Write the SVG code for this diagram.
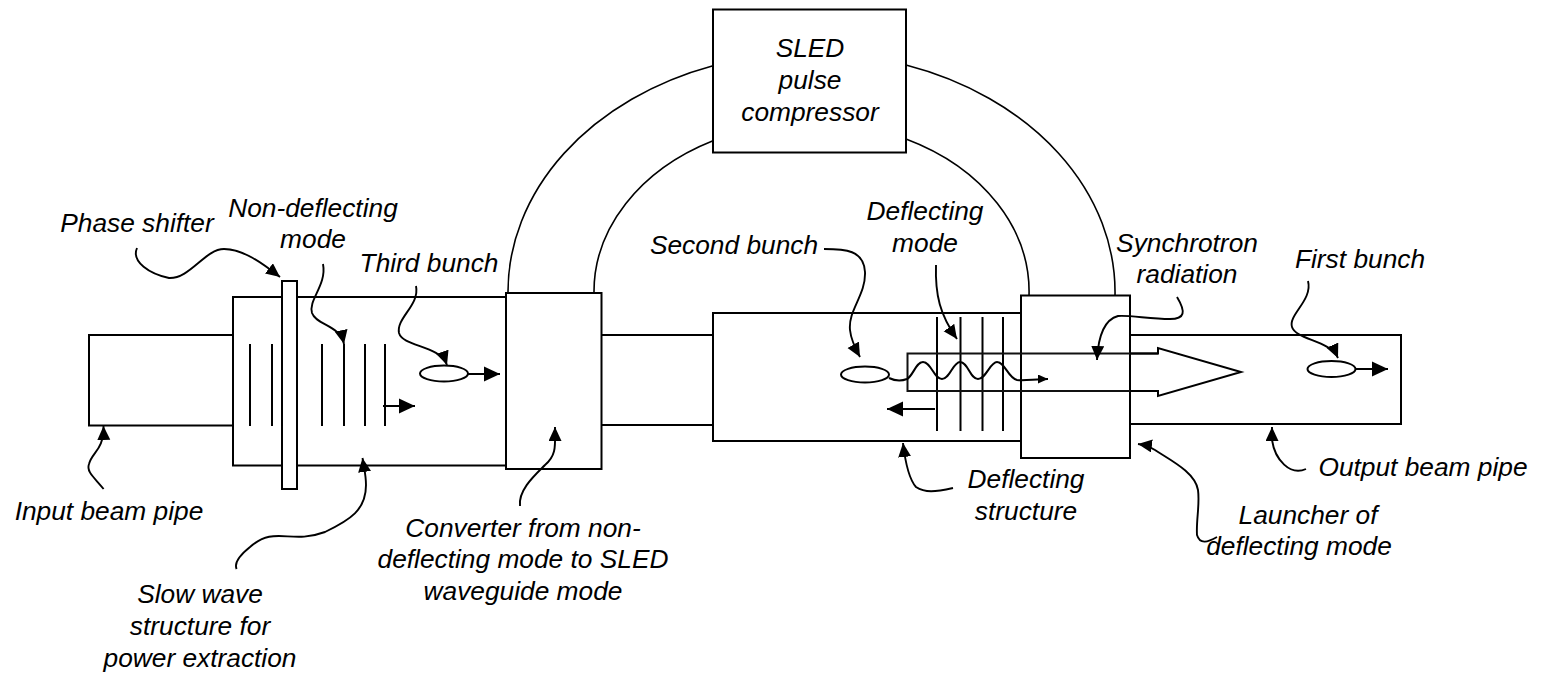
<svg xmlns="http://www.w3.org/2000/svg" width="1541" height="674" viewBox="0 0 1541 674">
<defs>
<marker id="a" markerUnits="userSpaceOnUse" markerWidth="16" markerHeight="14" refX="14" refY="6.500" orient="auto"><path d="M0 0L14 6.500L0 13Z" fill="#000"/></marker>
<marker id="big" markerUnits="userSpaceOnUse" markerWidth="18" markerHeight="16" refX="16" refY="8" orient="auto"><path d="M0 0.500L16 8L0 15.500Z" fill="#000"/></marker>
<marker id="small" markerUnits="userSpaceOnUse" markerWidth="12" markerHeight="10" refX="10" refY="4.500" orient="auto"><path d="M0 0L10 4.500L0 9Z" fill="#000"/></marker>
</defs>
<style>
.b{fill:#fff;stroke:#000;stroke-width:2}
.l{fill:none;stroke:#000;stroke-width:2}
.t{fill:none;stroke:#111;stroke-width:2}
.w{fill:none;stroke:#000;stroke-width:1.600}
.c{fill:none;stroke:#000;stroke-width:1.900;marker-end:url(#a)}
.s{fill:none;stroke:#000;stroke-width:2;marker-end:url(#big)}
text{font:italic 26.3px "Liberation Sans",Arial,sans-serif;text-anchor:middle;fill:#000}
</style>
<rect width="1541" height="674" fill="#fff"/>
<g id="waveguides"><path class="w" d="M508 293A303.500 239 0 0 1 713 65.700M594 293A217.500 169.400 0 0 1 713 140.700M1029 296A217.500 169.400 0 0 0 906 139M1115 296A303.500 239 0 0 0 906 65"/></g>
<g id="input-pipe"><rect class="b" x="89" y="335" width="160" height="90.500"/></g>
<g id="slow-wave"><rect class="b" x="233" y="297" width="290" height="168.500"/></g>
<g id="converter"><rect class="b" x="506" y="293" width="95.500" height="176"/><path class="l" d="M601 335H720M601 425H720"/></g>
<g id="deflecting"><rect class="b" x="713" y="313" width="315" height="128"/></g>
<g id="output-pipe"><rect class="b" x="1100" y="335" width="301" height="89"/></g>
<g id="launcher"><rect class="b" x="1021" y="295.500" width="109" height="162.500"/></g>
<g id="phase"><rect class="b" x="282" y="281" width="15" height="208"/></g>
<g id="sled"><rect class="b" x="713" y="9.500" width="193" height="143"/><text><tspan x="810" y="57">SLED</tspan><tspan x="810" y="89">pulse</tspan><tspan x="810" y="121">compressor</tspan></text></g>
<g id="details">
<path class="l" d="M250 344V426M272 344V426M322 344V426M344 344V426M365 344V426M385 344V426"/>
<ellipse class="b" cx="444" cy="373.500" rx="24" ry="8"/>
<path class="l" d="M937 317V431M960.500 317V431M982.500 317V431M1003 317V431"/>
<path class="t" d="M1158 353.500H907.500V391H1158"/>
<path class="l" d="M1130 391H1158V396L1241 372L1158 348V353.500H1130"/>
<ellipse class="b" cx="865" cy="374.500" rx="24" ry="8"/>
<ellipse class="b" cx="1331.500" cy="369" rx="24" ry="8"/>
</g>
<g id="connectors">
<path class="s" d="M383 406H415"/><path class="s" d="M468 374H500"/>
<path class="s" d="M935 409H887"/><path class="s" d="M1356 369H1388"/>
<path class="l" style="marker-end:url(#small)" d="M889 378C895 381 902 381 907 379C913 376 916 362 923 362C931 362 934 379 942 379C950 379 953 362 960 362C968 362 970 379 978 379C986 379 990 362 997 362C1005 362 1008 378 1017 380C1025 381 1035 379 1048 379"/>
<path class="c" d="M103.600 489C95 478 86 472 89 464C92 452 104 450 103.500 426"/>
<path class="c" d="M137 248C131 262 150 274 169 278C190 279 205 249 224 249C243 249 262 263 280 277"/>
<path class="c" d="M323 264C327 285 308 300 312 313C316 325 340 325 344 344"/>
<path class="c" d="M416 286C420 305 396 318 399 333C403 347 440 345 447 365"/>
<path class="c" d="M236.600 569C234 563 240 555 250 547C275 525 290 545 325 532C350 520 366 510 366 485C366 475 364 468 362.500 458"/>
<path class="c" d="M520 506C518 490 535 475 545 465C557 455 555 445 555 427"/>
<path class="c" d="M824 249C845 249 864 250 865 272C866 295 848 310 850 330C851 340 855 348 860 357"/>
<path class="c" d="M936 265C935 295 940 315 957 339"/>
<path class="c" d="M953 488C935 492 925 493 916 487C908 478 905 460 903 443"/>
<path class="c" d="M1177 297C1186 312 1185 319 1170 319C1150 319 1130 315 1118 316C1103 320 1098 340 1097 360"/>
<path class="c" d="M1308 281C1313 300 1288 315 1292 327C1296 340 1330 340 1338 358"/>
<path class="c" d="M1217 537C1208 542 1200 545 1197 535C1196 520 1200 505 1198 490C1195 472 1170 460 1155 450C1150 447 1145 445 1138 444"/>
<path class="c" d="M1306 469C1290 476 1275 460 1272 440L1272 427"/>
</g>
<g id="labels">
<text x="137" y="232">Phase shifter</text>
<text><tspan x="313" y="217">Non-deflecting</tspan><tspan x="313" y="248">mode</tspan></text>
<text x="429" y="272">Third bunch</text>
<text x="109" y="520">Input beam pipe</text>
<text><tspan x="200" y="603">Slow wave</tspan><tspan x="200" y="635">structure for</tspan><tspan x="200" y="667">power extraction</tspan></text>
<text><tspan x="523" y="537">Converter from non-</tspan><tspan x="523" y="568">deflecting mode to SLED</tspan><tspan x="523" y="600">waveguide mode</tspan></text>
<text x="734" y="254">Second bunch</text>
<text><tspan x="925" y="220">Deflecting</tspan><tspan x="925" y="252">mode</tspan></text>
<text><tspan x="1026" y="488">Deflecting</tspan><tspan x="1026" y="520">structure</tspan></text>
<text><tspan x="1187" y="252">Synchrotron</tspan><tspan x="1187" y="283">radiation</tspan></text>
<text x="1360" y="268">First bunch</text>
<text x="1423" y="476">Output beam pipe</text>
<text><tspan x="1308" y="524">Launcher of</tspan><tspan x="1299" y="555">deflecting mode</tspan></text>
</g>
</svg>
